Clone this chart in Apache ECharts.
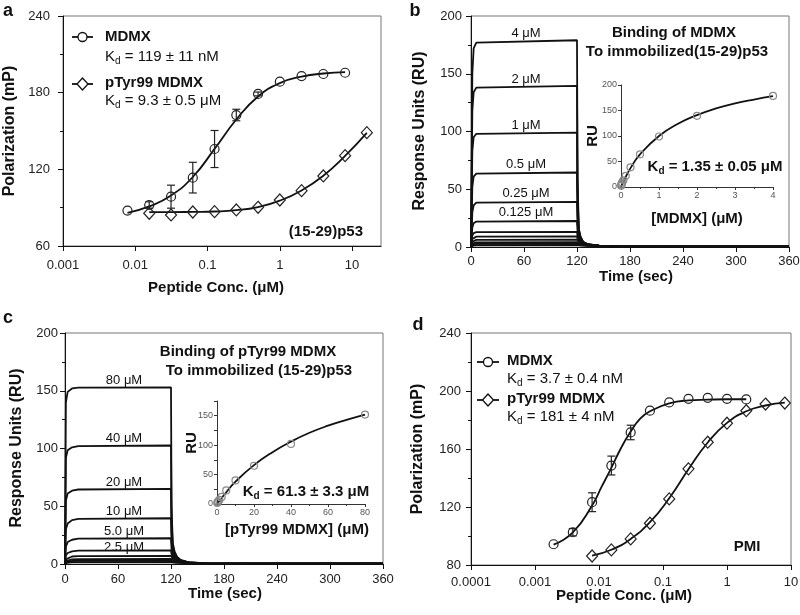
<!DOCTYPE html>
<html><head><meta charset="utf-8">
<script src="https://cdn.jsdelivr.net/npm/echarts@6/dist/echarts.min.js"></script>
<style>html,body{margin:0;padding:0;background:#fff}#c{width:800px;height:615px}</style>
</head><body><div id="c"></div>
<script>
const FF = '"Liberation Sans", Arial, Helvetica, sans-serif';

// ---------- Panel a : FP, (15-29)p53 ----------
const aConcMDMX = [0.0078, 0.0156, 0.03125, 0.0625, 0.125, 0.25, 0.5, 1, 2, 4, 8];
const aPolMDMX  = [87.7, 92.1, 98.6, 113.5, 135.9, 162.5, 179, 188.6, 193, 194.6, 195.6];
const aErrMDMX  = [0, 2.5, 9, 12, 14.5, 4.5, 1.5, 0, 0, 0, 0];
const aFitMDMX  = [86, 91, 99.5, 114, 136, 159, 177, 187.5, 192.5, 195, 196];
const aConcPTyr = [0.0156, 0.03125, 0.0625, 0.125, 0.25, 0.5, 1, 2, 4, 8, 16];
const aPolPTyr  = [85.6, 84.3, 86.6, 86.9, 88.2, 90.3, 96, 103.3, 114.8, 130.7, 148.7];
const aFitPTyr  = [86.5, 86.5, 86.7, 87, 88, 90.5, 95.5, 103.5, 115, 130.5, 148.5];

// ---------- Panel b : SPR, MDMX ----------
const bTime = [0, 1.5, 3, 6, 120, 120.6, 122, 124, 127, 132, 145, 170, 360];
const bCurves = [
  [0, 150, 172, 177, 179, 60, 16, 9, 4.5, 2.5, 1.2, 0.6, 0.2],
  [0, 118, 134, 138, 139.5, 50, 15, 8.5, 4.3, 2.4, 1.2, 0.6, 0.2],
  [0, 83, 95, 98, 99, 38, 14, 8, 4, 2.3, 1.1, 0.6, 0.2],
  [0, 52, 61, 63.5, 64.5, 28, 12, 7.5, 3.8, 2.2, 1.1, 0.6, 0.2],
  [0, 30, 36, 38.5, 39, 20, 10, 7, 3.6, 2.1, 1.1, 0.6, 0.2],
  [0, 17, 20.5, 22, 22.5, 14, 8.5, 6, 3.4, 2, 1, 0.5, 0.2],
  [0, 10, 12, 12.8, 13, 9.5, 7, 5, 3, 1.9, 1, 0.5, 0.2],
  [0, 7, 8.5, 9, 9.2, 7, 5.5, 4.2, 2.8, 1.8, 1, 0.5, 0.2],
  [0, 4.5, 5.8, 6.2, 6.4, 5.2, 4.3, 3.5, 2.5, 1.6, 0.9, 0.5, 0.2],
  [0, 3, 3.7, 4, 4.1, 3.6, 3.2, 2.8, 2.1, 1.4, 0.8, 0.5, 0.2],
  [0, 2, 2.5, 2.8, 2.9, 2.6, 2.4, 2.1, 1.7, 1.2, 0.8, 0.4, 0.2],
  [0, 1.2, 1.5, 1.7, 1.8, 1.7, 1.6, 1.4, 1.2, 1, 0.7, 0.4, 0.2]
];
const bLabels = ['4 μM', '2 μM', '1 μM', '0.5 μM', '0.25 μM', '0.125 μM'];
const bInsetConc = [4, 2, 1, 0.5, 0.25, 0.125, 0.0625, 0.03125, 0.0156, 0.0078, 0.0039];
const bInsetRU   = [178.5, 139.5, 99, 64, 38.5, 22, 13, 9, 6, 4, 2.5];
const bFitConc = [0, 0.1, 0.25, 0.5, 1, 1.5, 2, 2.5, 3, 3.5, 4];
const bFitRU   = [0, 16, 37, 64, 100, 124, 141, 154, 164, 171.5, 178];

// ---------- Panel c : SPR, pTyr99 MDMX ----------
const cTime = [0, 1, 3, 8, 15, 120, 120.6, 122, 124, 127, 131, 140, 160, 360];
const cCurves = [
  [0, 140, 149, 152, 152.7, 153, 50, 18, 11, 6, 3.5, 1.5, 0.6, 0.3],
  [0, 92, 98.5, 101, 102, 102.6, 38, 16, 10, 5.5, 3.2, 1.4, 0.6, 0.3],
  [0, 55, 61, 63.5, 64.5, 65, 28, 14, 9, 5, 3, 1.3, 0.6, 0.3],
  [0, 30, 35, 38, 39, 39.6, 19, 11, 7.5, 4.5, 2.7, 1.2, 0.5, 0.3],
  [0, 15, 19, 21, 22, 22.3, 13, 8.5, 6, 4, 2.4, 1.1, 0.5, 0.3],
  [0, 7.5, 9.5, 11, 11.5, 11.8, 8.5, 6.5, 5, 3.3, 2.1, 1, 0.5, 0.3],
  [0, 4, 5.5, 6.5, 6.9, 7, 5.8, 4.8, 3.9, 2.8, 1.8, 0.9, 0.5, 0.3],
  [0, 2.5, 3.4, 4, 4.3, 4.4, 3.8, 3.3, 2.8, 2.1, 1.5, 0.8, 0.4, 0.3],
  [0, 1.5, 2.1, 2.6, 2.8, 2.9, 2.6, 2.3, 2, 1.6, 1.2, 0.7, 0.4, 0.3],
  [0, 0.9, 1.3, 1.6, 1.7, 1.8, 1.6, 1.5, 1.3, 1.1, 0.9, 0.6, 0.4, 0.3]
];
const cLabels = ['80 μM', '40 μM', '20 μM', '10 μM', '5.0 μM', '2.5 μM'];
const cInsetConc = [80, 40, 20, 10, 5, 2.5, 1.25, 0.625, 0.3125, 0.156];
const cInsetRU   = [152, 102, 65, 40, 23, 12, 7, 4.3, 2.9, 1.7];
const cFitConc = [0, 5, 10, 20, 30, 40, 50, 60, 70, 80];
const cFitRU   = [0, 20, 38, 66, 88, 106, 121, 133, 143, 152];

// ---------- Panel d : FP, PMI ----------
const dConcMDMX = [0.00195, 0.0039, 0.0078, 0.0156, 0.03125, 0.0625, 0.125, 0.25, 0.5, 1, 2];
const dPolMDMX  = [94.3, 102.6, 123.3, 148.6, 171.4, 186.4, 192.1, 194.6, 195.3, 194.6, 194.2];
const dErrMDMX  = [0, 2.5, 6.5, 6.5, 5, 0, 0, 0, 0, 0, 0];
const dFitConcMDMX = [0.00195, 0.0039, 0.0078, 0.011, 0.0156, 0.022, 0.03125, 0.044, 0.0625, 0.125, 0.25, 0.5, 1, 2];
const dFitMDMX  = [94, 102.5, 121, 134, 147, 160.5, 172, 181, 186, 191.5, 193.5, 194, 194.3, 194.3];
const dConcPTyr = [0.0078, 0.0156, 0.03125, 0.0625, 0.125, 0.25, 0.5, 1, 2, 4, 8];
const dPolPTyr  = [86.2, 90.4, 98, 108.8, 125.6, 146.3, 164.7, 177.8, 186.4, 191, 191.7];
const dFitPTyr  = [86.5, 90.5, 98, 109.5, 126, 146, 164.5, 178, 186, 190, 192];

// ---------- helpers ----------
const L = Math.log10;
const decade = v => { const r = Math.round(v); if (Math.abs(v - r) > 1e-6) return ''; return r < 0 ? Math.pow(10, r).toFixed(-r) : String(Math.pow(10, r)); };
const BLACK = '#111';
const lbl = m => ({fontFamily: FF, fontSize: 13, color: '#222', margin: m});
const insetLbl = {fontFamily: FF, fontSize: 9, color: '#555', margin: 4};

function mainAxis(gi, m, extra) {
  return Object.assign({
    type: 'value', gridIndex: gi,
    axisLine: {show: true, onZero: false, lineStyle: {color: BLACK, width: 1}},
    axisTick: {show: true, inside: false, length: 5, lineStyle: {color: BLACK}},
    axisLabel: lbl(m),
    splitLine: {show: false}
  }, extra);
}
function insetAxis(gi, extra) {
  return Object.assign({
    type: 'value', gridIndex: gi,
    axisLine: {show: true, onZero: false, lineStyle: {color: '#333', width: 1}},
    axisTick: {show: true, inside: false, length: 3, lineStyle: {color: '#333'}},
    axisLabel: Object.assign({}, insetLbl),
    splitLine: {show: false}
  }, extra);
}

function fitLine(ax, xs, ys, logx) {
  return {type: 'line', xAxisIndex: ax, yAxisIndex: ax, showSymbol: false, smooth: 0.5,
    lineStyle: {color: BLACK, width: 1.8}, z: 2, silent: true,
    data: xs.map((c, i) => [logx ? L(c) : c, ys[i]])};
}
function marks(ax, xs, ys, shape, logx, color, size) {
  return {type: 'scatter', xAxisIndex: ax, yAxisIndex: ax, symbol: shape, symbolSize: size,
    itemStyle: {color: 'rgba(255,255,255,0)', borderColor: color, borderWidth: 1.2, opacity: 1}, z: 5, silent: true,
    data: xs.map((c, i) => [logx ? L(c) : c, ys[i]])};
}
function errBars(ax, xs, ys, es) {
  const data = [];
  xs.forEach((c, i) => { if (es[i] > 0) data.push([L(c), ys[i] - es[i], ys[i] + es[i]]); });
  return {type: 'custom', xAxisIndex: ax, yAxisIndex: ax, z: 4, silent: true, encode: {x: 0, y: [1, 2]}, data,
    renderItem: (params, api) => {
      const x = api.value(0);
      const p1 = api.coord([x, api.value(1)]);
      const p2 = api.coord([x, api.value(2)]);
      const w = 4, st = {stroke: '#222', lineWidth: 1.2};
      return {type: 'group', children: [
        {type: 'line', shape: {x1: p1[0], y1: p1[1], x2: p2[0], y2: p2[1]}, style: st},
        {type: 'line', shape: {x1: p1[0] - w, y1: p1[1], x2: p1[0] + w, y2: p1[1]}, style: st},
        {type: 'line', shape: {x1: p2[0] - w, y1: p2[1], x2: p2[0] + w, y2: p2[1]}, style: st}]};
    }};
}
function sensorgrams(ax, times, curves) {
  return curves.map(v => ({type: 'line', xAxisIndex: ax, yAxisIndex: ax, showSymbol: false, silent: true,
    lineStyle: {color: BLACK, width: 1.8}, z: 2, data: times.map((t, i) => [t, v[i]])}));
}

// graphic helpers
function T(x, y, text, size, bold, align, rot, color) {
  return {type: 'text', x, y, rotation: rot || 0, z: 100,
    style: {text, fontFamily: FF, fontSize: size, fontWeight: bold ? 'bold' : 'normal',
      fill: color || BLACK, align: align || 'left', textAlign: align || 'left',
      verticalAlign: 'middle', textVerticalAlign: 'middle'}};
}
function KD(x, y, rest, size, bold, align) {
  const w = bold ? 'bold' : 'normal';
  return {type: 'text', x, y, z: 100,
    style: {text: '{a|K}{s|d}{a|' + rest + '}', align: align || 'left', textAlign: align || 'left',
      verticalAlign: 'middle', textVerticalAlign: 'middle',
      rich: {a: {fontFamily: FF, fontSize: size, fontWeight: w, fill: BLACK, lineHeight: size + 4},
             s: {fontFamily: FF, fontSize: Math.round(size * 0.66), fontWeight: w, fill: BLACK, lineHeight: 10, verticalAlign: 'bottom'}}}};
}
function legendItem(x1, x2, y, shape) {
  const cx = (x1 + x2) / 2;
  const m = shape === 'circle'
    ? {type: 'circle', shape: {cx, cy: y, r: 4.5}, style: {fill: '#fff', stroke: BLACK, lineWidth: 1.3}, z: 101}
    : {type: 'polygon', shape: {points: [[cx, y - 6], [cx + 5.5, y], [cx, y + 6], [cx - 5.5, y]]}, style: {fill: '#fff', stroke: BLACK, lineWidth: 1.3}, z: 101};
  return [{type: 'line', shape: {x1, y1: y, x2, y2: y}, style: {stroke: BLACK, lineWidth: 1.8}, z: 100}, m];
}

const grids = [
  {left: 63, top: 16, width: 318, height: 230},   // a
  {left: 471, top: 16, width: 318, height: 231},  // b
  {left: 621, top: 85, width: 152, height: 102},  // b inset
  {left: 65, top: 333, width: 318, height: 231},  // c
  {left: 217, top: 401, width: 148, height: 103}, // c inset
  {left: 471, top: 333, width: 320, height: 232}  // d
].map((g, i) => Object.assign(g, (i === 2 || i === 4)
  ? {show: false, outerBoundsMode: 'none', containLabel: false}
  : {show: true, borderColor: '#777', borderWidth: 1, backgroundColor: 'transparent', outerBoundsMode: 'none', containLabel: false}));

const xAxis = [
  mainAxis(0, 13, {min: -3, max: 1.4, interval: 1,
    axisLabel: Object.assign(lbl(13), {formatter: decade}),
    axisTick: {show: true, length: 5, lineStyle: {color: BLACK}, customValues: [-3, -2, -1, 0, 1]}}),
  mainAxis(1, 8, {min: 0, max: 360, interval: 60}),
  insetAxis(2, {min: 0, max: 4, interval: 1, minorTick: {show: true, splitNumber: 2, length: 2, lineStyle: {color: '#333'}}}),
  mainAxis(3, 9, {min: 0, max: 360, interval: 60}),
  insetAxis(4, {min: 0, max: 80, interval: 20, minorTick: {show: true, splitNumber: 2, length: 2, lineStyle: {color: '#333'}}}),
  mainAxis(5, 11, {min: -4, max: 1, interval: 1, axisLabel: Object.assign(lbl(11), {formatter: decade})})
];
const yAxis = [
  mainAxis(0, 13, {min: 60, max: 240, interval: 60, minorTick: {show: true, splitNumber: 2, length: 3, lineStyle: {color: BLACK}}}),
  mainAxis(1, 9, {min: 0, max: 200, interval: 50, minorTick: {show: true, splitNumber: 2, length: 3, lineStyle: {color: BLACK}}}),
  insetAxis(2, {min: 0, max: 200, interval: 50}),
  mainAxis(3, 7, {min: 0, max: 200, interval: 50, minorTick: {show: true, splitNumber: 2, length: 3, lineStyle: {color: BLACK}}}),
  insetAxis(4, {min: 0, max: 175, interval: 25, axisLabel: Object.assign({}, insetLbl, {formatter: v => (v % 50 === 0 ? String(v) : '')})}),
  mainAxis(5, 10, {min: 80, max: 240, interval: 40, minorTick: {show: true, splitNumber: 2, length: 3, lineStyle: {color: BLACK}}})
];

const series = [
  // a
  fitLine(0, aConcMDMX, aFitMDMX, true),
  fitLine(0, aConcPTyr, aFitPTyr, true),
  errBars(0, aConcMDMX, aPolMDMX, aErrMDMX),
  marks(0, aConcMDMX, aPolMDMX, 'circle', true, '#222', 9),
  marks(0, aConcPTyr, aPolPTyr, 'diamond', true, '#222', [11, 12]),
  // b
  ...sensorgrams(1, bTime, bCurves),
  fitLine(2, bFitConc, bFitRU, false),
  marks(2, bInsetConc, bInsetRU, 'circle', false, '#888', 7),
  // c
  ...sensorgrams(3, cTime, cCurves),
  fitLine(4, cFitConc, cFitRU, false),
  marks(4, cInsetConc, cInsetRU, 'circle', false, '#888', 7),
  // d
  fitLine(5, dFitConcMDMX, dFitMDMX, true),
  fitLine(5, dConcPTyr, dFitPTyr, true),
  errBars(5, dConcMDMX, dPolMDMX, dErrMDMX),
  marks(5, dConcMDMX, dPolMDMX, 'circle', true, '#222', 9),
  marks(5, dConcPTyr, dPolPTyr, 'diamond', true, '#222', [11, 12])
];

const bLabelY = [33, 79, 125, 164, 193, 212];
const cLabelY = [380, 438, 482, 511, 531, 547];
const graphic = [
  // panel letters
  T(8, 11, 'a', 18, true, 'center'), T(415, 11, 'b', 18, true, 'center'),
  T(8, 318, 'c', 18, true, 'center'), T(418, 325, 'd', 18, true, 'center'),
  // axis titles
  T(10, 131, 'Polarization (mP)', 16, true, 'center', Math.PI / 2),
  T(216, 288, 'Peptide Conc. (μM)', 15, true, 'center'),
  T(420, 131, 'Response Units (RU)', 16, true, 'center', Math.PI / 2),
  T(636, 277, 'Time (sec)', 15, true, 'center'),
  T(17, 448, 'Response Units (RU)', 16, true, 'center', Math.PI / 2),
  T(225, 594, 'Time (sec)', 15, true, 'center'),
  T(418, 449, 'Polarization (mP)', 16, true, 'center', Math.PI / 2),
  T(624, 596, 'Peptide Conc. (μM)', 15, true, 'center'),
  // panel a legend
  ...legendItem(72, 93, 37, 'circle'), T(105, 37, 'MDMX', 15, true),
  KD(105, 57, ' = 119 ± 11 nM', 15, false),
  ...legendItem(72, 93, 84, 'diamond'), T(105, 83, 'pTyr99 MDMX', 15, true),
  KD(105, 101, ' = 9.3 ± 0.5 μM', 15, false),
  T(363, 232, '(15-29)p53', 15, true, 'right'),
  // panel b
  T(674, 33, 'Binding of MDMX', 15, true, 'center'),
  T(677, 52, 'To immobilized(15-29)p53', 15, true, 'center'),
  ...bLabels.map((s, i) => T(526, bLabelY[i], s, 13, false, 'center')),
  T(593, 136, 'RU', 15, true, 'center', Math.PI / 2),
  T(697, 219, '[MDMX] (μM)', 15, true, 'center'),
  KD(715, 167, ' = 1.35 ± 0.05 μM', 15, true, 'center'),
  // panel c
  T(248, 352, 'Binding of pTyr99 MDMX', 15, true, 'center'),
  T(259, 371, 'To immobilized (15-29)p53', 15, true, 'center'),
  ...cLabels.map((s, i) => T(124, cLabelY[i], s, 13, false, 'center')),
  T(192, 443, 'RU', 15, true, 'center', Math.PI / 2),
  T(297, 530, '[pTyr99 MDMX] (μM)', 15, true, 'center'),
  KD(306, 492, ' = 61.3 ± 3.3 μM', 15, true, 'center'),
  // panel d legend
  ...legendItem(477, 499, 362, 'circle'), T(507, 361, 'MDMX', 15, true),
  KD(507, 379, ' = 3.7 ± 0.4 nM', 15, false),
  ...legendItem(477, 499, 400, 'diamond'), T(507, 399, 'pTyr99 MDMX', 15, true),
  KD(507, 417, ' = 181 ± 4 nM', 15, false),
  T(747, 547, 'PMI', 15, true, 'center')
];

const chart = echarts.init(document.getElementById('c'), null, {renderer: 'canvas', width: 800, height: 615});
chart.setOption({
  animation: false,
  backgroundColor: '#fff',
  textStyle: {fontFamily: FF},
  grid: grids, xAxis, yAxis, series, graphic
});
</script></body></html>
